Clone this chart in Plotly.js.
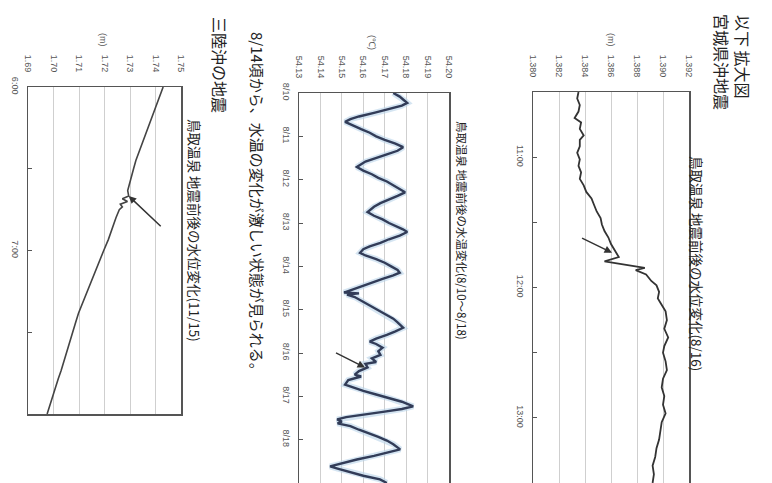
<!DOCTYPE html>
<html><head><meta charset="utf-8">
<script src="https://cdn.plot.ly/plotly-3.0.1.min.js"></script>
<style>html,body{margin:0;padding:0;background:#fff}#chart{width:772px;height:483px}</style>
</head><body><div id="chart"></div>
<script>
// ---- Chart 1: 宮城県沖地震 水位 (8/16) minutes after 10:30 ----
const c1Minutes = [0,3,6,9,12,14,17,20,22,25,28,31,34,37,40,43,46,49,52,55,58,61,64,67,70,73,76,78,80,81,82,84,87,89,92,95,97,101,105,109,113,117,120,124,128,132,136,140,144,148,152,156,160,164,168,172,176,180];
const c1Level = [1.3835,1.3834,1.3836,1.3835,1.3832,1.3837,1.3836,1.3839,1.3836,1.3836,1.3834,1.3836,1.3835,1.3837,1.3836,1.3839,1.3841,1.3845,1.3847,1.3849,1.3852,1.3853,1.3855,1.3858,1.3860,1.3863,1.3866,1.3855,1.3876,1.3886,1.3879,1.3887,1.3891,1.3895,1.3897,1.3896,1.3898,1.3902,1.3903,1.3901,1.3904,1.3901,1.3900,1.3902,1.3903,1.3900,1.3899,1.3901,1.3900,1.3902,1.3899,1.3898,1.3897,1.3895,1.3894,1.3892,1.3893,1.3892];
const c1TickLabels = ['11:00','','12:00','','13:00'];

// ---- Chart 2: 水温 (8/10〜8/18) hours after 8/10 0:00 ----
const c2Hours = [0,2,4,5.5,7,9,11,13,14.5,16,18,20,22,24,26,28,30,32,34,36,38,41,43,45,47,49,51,53,55,57,59,61,63,66,68,70,72,74,75.5,77,79,81,83,85,86.5,88.5,90,92,94,96,98,99.5,101,103,105,107,109,110.5,111,111.7,113,115,117,119,121,123,125,127,130,132,134,136,137.7,139,141,143,145,147,149,150,152,154,156,157,159,161.5,163,165,167,169,171,173.6,175,176.5,178,179.5,180.8,182,183,184.5,186.5,188.5,190.5,192.5,194.5,197.4,199,201,203,205,206.8,208,210,212,214,216];
const c2Temp = [54.174,54.177,54.179,54.1805,54.178,54.172,54.165,54.158,54.154,54.1515,54.155,54.159,54.163,54.166,54.170,54.175,54.1786,54.176,54.171,54.166,54.161,54.157,54.160,54.164,54.167,54.171,54.174,54.177,54.1795,54.176,54.172,54.168,54.165,54.162,54.165,54.169,54.172,54.176,54.1785,54.1805,54.177,54.172,54.168,54.163,54.160,54.1585,54.161,54.166,54.170,54.173,54.176,54.177,54.174,54.169,54.164,54.159,54.155,54.151,54.158,54.1524,54.156,54.159,54.162,54.165,54.168,54.171,54.174,54.176,54.1786,54.175,54.171,54.166,54.163,54.166,54.169,54.167,54.168,54.164,54.166,54.161,54.162,54.158,54.156,54.159,54.153,54.1515,54.155,54.160,54.166,54.172,54.178,54.1833,54.178,54.170,54.160,54.152,54.1478,54.150,54.148,54.154,54.158,54.163,54.167,54.171,54.174,54.1772,54.172,54.165,54.157,54.150,54.1445,54.148,54.154,54.160,54.1678,54.171];
const c2TickLabels = ['8/10','8/11','8/12','8/13','8/14','8/15','8/16','8/17','8/18'];

// ---- Chart 3: 三陸沖の地震 水位 (11/15) minutes after 6:00 ----
const c3Minutes = [0,4,8,12,16,20,24,27,30,34,38,40,41,42,43,44,45,48,52,56,60,64,68,72,76,80,83,87,91,96,100,104,107,111,116,120];
const c3Level = [1.7430,1.7414,1.7398,1.7382,1.7366,1.7350,1.7334,1.7323,1.7314,1.7302,1.7291,1.7295,1.7270,1.7290,1.7262,1.7270,1.7258,1.7245,1.7231,1.7215,1.7197,1.7180,1.7163,1.7145,1.7128,1.7111,1.7098,1.7085,1.7072,1.7058,1.7044,1.7030,1.7019,1.7005,1.6987,1.6975];
const c3TickLabels = ['6:00','','7:00','',''];

const W = 772, H = 483;
const px = v => v / W, py = v => 1 - v / H;
function fmt(ms){ return new Date(ms).toISOString().replace('T',' ').slice(0,19); }
function minutesFrom(y,mo,d,h,mi,arr,unit){ const b = Date.UTC(y,mo-1,d,h,mi); return arr.map(m => fmt(b + m*unit)); }

const t1 = minutesFrom(2005,8,16,10,30,c1Minutes,60000);
const t2 = minutesFrom(2005,8,10,0,0,c2Hours,3600000);
const t3 = minutesFrom(2005,11,15,6,0,c3Minutes,60000);

const tv1 = minutesFrom(2005,8,16,11,0,[0,30,60,90,120],60000);
const tv2 = minutesFrom(2005,8,10,0,0,[0,24,48,72,96,120,144,168,192],3600000);
const tv3 = minutesFrom(2005,11,15,6,0,[0,30,60,90,120],60000);

const JP = '"Noto Sans CJK JP", "Noto Sans", sans-serif';
const TK = {family:'"Liberation Sans", Arial, sans-serif', size:9, color:'#555'};
const lineC = '#555', gridC = '#cfcfcf';

function valAxis(domain, anchor, range, dtick, fmtStr, mirror){
  return {domain, anchor, side:'top', range, dtick, tick0: range[0], tickformat: fmtStr,
    tickangle:90, tickfont:TK, showgrid:true, gridcolor:gridC, gridwidth:1, zeroline:false,
    showline:true, linecolor:lineC, linewidth:1.5, mirror, ticks:'', ticklabelstandoff:10, fixedrange:true};
}
function timeAxis(domain, anchor, range, tickvals, ticktext){
  return {domain, anchor, type:'date', range, tickvals, ticktext, tickangle:90, tickfont:TK,
    ticks:'inside', ticklen:4, tickcolor:lineC, showgrid:false, zeroline:false,
    showline:true, linecolor:lineC, linewidth:1.5, mirror:true, ticklabelstandoff:4};
}

const traces = [
  {x:c1Level, y:t1, xaxis:'x', yaxis:'y', type:'scatter', mode:'lines', line:{color:'#333', width:1.8}},
  {x:c2Temp, y:t2, xaxis:'x2', yaxis:'y2', type:'scatter', mode:'lines', line:{color:'#b9d3ea', width:6}, opacity:0.6},
  {x:c2Temp, y:t2, xaxis:'x2', yaxis:'y2', type:'scatter', mode:'lines', line:{color:'#323c58', width:2.4}},
  {x:c3Level, y:t3, xaxis:'x3', yaxis:'y3', type:'scatter', mode:'lines', line:{color:'#444', width:1.6}}
];

function txt(text, x, y, size, opts){
  return Object.assign({text, x:px(x), y:py(y), xref:'paper', yref:'paper', showarrow:false,
    textangle:90, xanchor:'center', yanchor:'middle', font:{family:JP, size, color:'#222'}}, opts||{});
}
function arrow(xr, yr, xv, yv, ax, ay){
  return {text:' ', x:xv, y:yv, xref:xr, yref:yr, showarrow:true, arrowhead:2, arrowsize:1,
    arrowwidth:1.5, arrowcolor:'#333', ax, ay};
}

const annotations = [
  txt('以下 拡大図', 743, 57, 16),
  txt('宮城県沖地震', 722, 62, 16),
  txt('鳥取温泉 地震前後の水位変化(8/16)', 697, 263, 13.5),
  txt('(m)', 611, 40, 9, {font:{family:TK.family, size:9, color:'#555'}}),
  txt('鳥取温泉 地震前後の水温変化(8/10〜8/18)', 462, 230, 11.5),
  txt('(℃)', 372, 42, 9, {font:{family:TK.family, size:9, color:'#555'}}),
  txt('8/14頃から、水温の変化が激しい状態が見られる。', 257, 205, 15),
  txt('三陸沖の地震', 220, 65, 16),
  txt('鳥取温泉 地震前後の水位変化(11/15)', 195, 230, 13.5),
  txt('(m)', 103, 40, 9, {font:{family:TK.family, size:9, color:'#555'}}),
  arrow('x','y', 1.38608, '2005-08-16 11:44:00', -33, -16),
  arrow('x2','y2', 54.1608, '2005-08-16 08:00:00', -32, -16),
  arrow('x3','y3', 1.7295, '2005-11-15 06:40:00', 35, 33)
];

const layout = {
  width:W, height:H, margin:{l:0,r:0,t:0,b:0}, paper_bgcolor:'#fff', plot_bgcolor:'#fff',
  showlegend:false, annotations,
  xaxis: valAxis([px(533), px(689)], 'y', [1.380, 1.392], 0.002, '.3f', false),
  yaxis: timeAxis([0, py(92)], 'x', ['2005-08-16 13:30:00','2005-08-16 10:30:00'], tv1, c1TickLabels),
  xaxis2: valAxis([px(299), px(449)], 'y2', [54.13, 54.20], 0.01, '.2f', false),
  yaxis2: timeAxis([0, py(93)], 'x2', ['2005-08-19 00:00:00','2005-08-10 00:00:00'], tv2, c2TickLabels),
  xaxis3: valAxis([px(28), px(181)], 'y3', [1.69, 1.75], 0.01, '.2f', true),
  yaxis3: timeAxis([py(414), py(87)], 'x3', ['2005-11-15 08:00:00','2005-11-15 06:00:00'], tv3, c3TickLabels)
};

Plotly.newPlot('chart', traces, layout, {staticPlot:true, displayModeBar:false});
</script></body></html>
